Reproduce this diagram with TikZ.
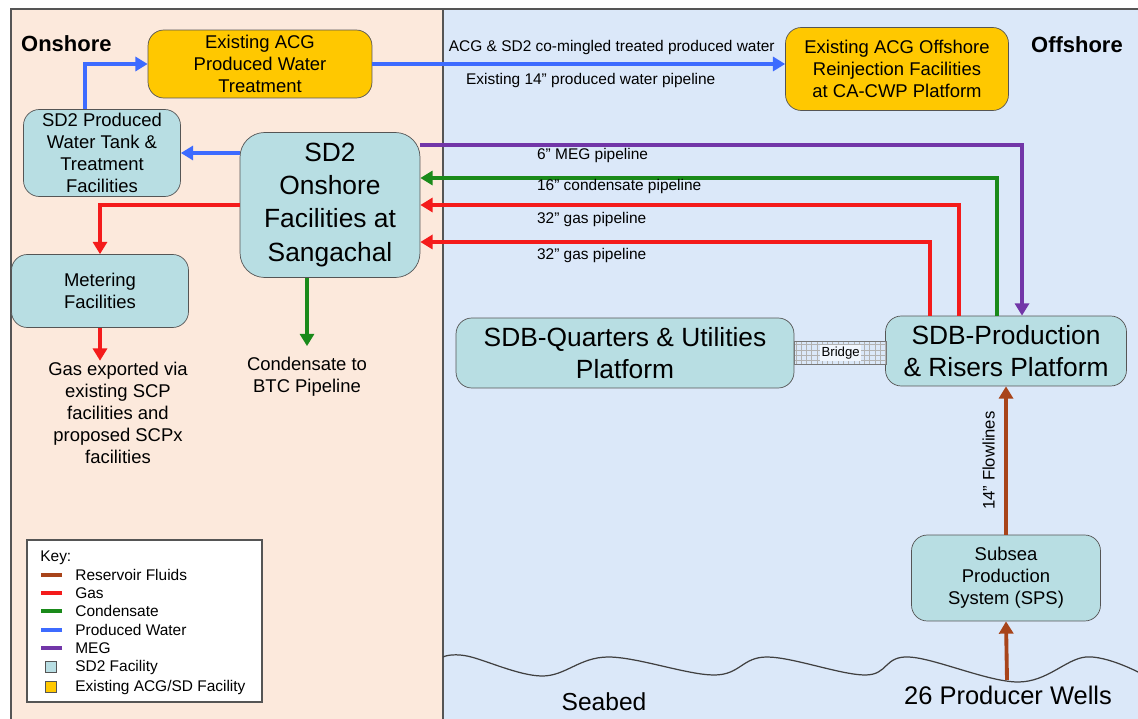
\documentclass[tikz,border=0pt]{standalone}
\usepackage{fontspec}
\setmainfont{Liberation Sans}
\usepackage{xcolor}
\usetikzlibrary{positioning}
\usetikzlibrary{arrows.meta}
\usetikzlibrary{patterns}
\usetikzlibrary{calc}

\definecolor{onshorebg}{HTML}{FCE9DC}
\definecolor{offshorebg}{HTML}{DBE8F9}
\definecolor{sdteal}{HTML}{B8DEE3}
\definecolor{acggold}{HTML}{FFC800}
\definecolor{boxline}{HTML}{555555}
\definecolor{gasred}{HTML}{F41B1B}
\definecolor{condgreen}{HTML}{1A8A1A}
\definecolor{waterblue}{HTML}{3D6BFF}
\definecolor{megpurple}{HTML}{7236A8}
\definecolor{fluidbrown}{HTML}{A8441A}

\newcommand{\midfont}{\fontsize{10.5}{12.5}\selectfont}
\newcommand{\bigfont}{\fontsize{15}{18.8}\selectfont}
\newcommand{\labfont}{\fontsize{8.8}{10}\selectfont}

\begin{document}
\begin{tikzpicture}[
  x=0.02cm, y=-0.02cm,
  % --- styles ---
  sdtwo/.style={draw=boxline, rounded corners=9pt, fill=sdteal, align=center, inner sep=2pt, font=\midfont},
  acg/.style={draw=boxline, rounded corners=9pt, fill=acggold, align=center, inner sep=2pt, font=\midfont},
  pipe/.style={line width=2.2pt, -{Triangle[length=7pt, width=8pt]}},
  lab/.style={font=\labfont, text=black, inner sep=1pt},
  note/.style={align=center, font=\fontsize{10.5}{12.6}\selectfont},
  zone/.style={font=\fontsize{12.5}{14}\selectfont\bfseries},
  keyline/.style={line width=2pt},
  keysq/.style={draw=boxline, minimum size=6.5pt, inner sep=0pt},
  keytxt/.style={font=\fontsize{8.8}{10}\selectfont, anchor=west, inner sep=0pt}
]

\useasboundingbox (0,0) rectangle (1138,719);

% ======================================================
% Onshore / offshore backgrounds
% ======================================================
\fill[white] (0,0) rectangle (1138,719);
\fill[onshorebg] (11,9) rectangle (443,719);
\fill[offshorebg] (443,9) rectangle (1138,719);
\draw[boxline, line width=1pt] (11,719) -- (11,9) -- (1138,9);
\draw[boxline, line width=1pt] (443,9) -- (443,719);

\node[zone, anchor=west] (onlab)  at (15,44) {Onshore};
\node[zone, anchor=west] (offlab) at (1025,45) {Offshore};

% seabed
\draw[black!75, line width=0.7pt] plot[smooth, tension=0.6] coordinates {
  (443,657) (467,656) (542,676) (608,657) (714,675) (767,657)
  (865,675) (909,657) (1018,682) (1086,657) (1138,672)};
\coordinate (wellhead) at (1007,680);

% ======================================================
% Onshore facilities
% ======================================================
\node[acg, minimum width=4.48cm, minimum height=1.36cm] (acgpw) at (260,64)
  {Existing ACG\\Produced Water\\Treatment};
\node[sdtwo, minimum width=3.14cm, minimum height=1.74cm] (pwtank) at (102,153)
  {SD2 Produced\\Water Tank \&\\Treatment\\Facilities};
\node[sdtwo, font=\bigfont, rounded corners=14pt, minimum width=3.6cm, minimum height=2.9cm] (onshore) at (330,205)
  {SD2\\Onshore\\Facilities at\\Sangachal};
\node[sdtwo, minimum width=3.54cm, minimum height=1.46cm] (meter) at (100,291)
  {Metering\\Facilities};

\node[note] (gasexp) at (118,413)
  {Gas exported via\\existing SCP\\facilities and\\proposed SCPx\\facilities};
\node[note] (btc) at (307,377) {Condensate to\\BTC Pipeline};

% ======================================================
% Offshore facilities
% ======================================================
\node[acg, minimum width=4.46cm, minimum height=1.66cm] (reinj) at (897,69)
  {Existing ACG Offshore\\Reinjection Facilities\\at CA-CWP Platform};
\node[sdtwo, font=\fontsize{15}{18}\selectfont, minimum width=6.76cm, minimum height=1.4cm] (quarters) at (625,353)
  {SDB-Quarters \& Utilities\\Platform};
\node[sdtwo, font=\fontsize{15}{18}\selectfont, minimum width=4.82cm, minimum height=1.4cm] (prod) at (1006,351)
  {SDB-Production\\\& Risers Platform};
\node[sdtwo, minimum width=3.78cm, minimum height=1.72cm] (sps) at (1006,578)
  {Subsea\\Production\\System (SPS)};

% bridge between platforms
\node[draw=boxline!80, pattern=grid, pattern color=boxline!45, anchor=west,
      minimum width=1.84cm, minimum height=0.46cm, inner sep=0pt] (bridge) at (quarters.east) {};
\node[font=\fontsize{7.5}{9}\selectfont, fill=offshorebg!40!white, inner sep=1pt] (bridgelab) at (bridge) {Bridge};

\node[font=\fontsize{14}{16}\selectfont] (seabed) at (604,702) {Seabed};
\node[font=\fontsize{14.5}{16}\selectfont] (wells) at (1008,695) {26 Producer Wells};

% ======================================================
% Produced water
% ======================================================
\draw[pipe, waterblue] ([xshift=-0.34cm]pwtank.north) |- (acgpw.west);
\draw[pipe, waterblue] (pwtank.east -| onshore.west) -- (pwtank.east);
\draw[pipe, waterblue] (acgpw.east) -- (acgpw.east -| reinj.west)
  node[lab, pos=0.5, above=3pt, xshift=0.66cm] {ACG \& SD2 co-mingled treated produced water}
  node[lab, pos=0.5, below=3pt, xshift=0.24cm] {Existing 14” produced water pipeline};

% ======================================================
% Onshore export
% ======================================================
\draw[pipe, gasred] (onshore.west) -| (meter.north);
\draw[pipe, gasred] (meter.south) -- ([yshift=-0.1cm]meter.south |- gasexp.north);
\draw[pipe, condgreen] (btc.north |- onshore.south) -- ([yshift=0.1cm]btc.north);

% ======================================================
% Pipelines to / from shore
% ======================================================
\draw[pipe, megpurple] ([yshift=1.2cm]onshore.east) -| ([xshift=0.32cm]prod.north);
\draw[pipe, condgreen] ([xshift=-0.18cm]prod.north) |- ([yshift=0.54cm]onshore.east);
\draw[pipe, gasred] ([xshift=-0.94cm]prod.north) |- (onshore.east);
\draw[pipe, gasred] ([xshift=-1.52cm]prod.north) |- ([yshift=-0.74cm]onshore.east);

\node[lab, anchor=west] (meglab)  at (535,156) {6” MEG pipeline};
\node[lab, anchor=west] (condlab) at (535,187) {16” condensate pipeline};
\node[lab, anchor=west] (gaslabA) at (535,220) {32” gas pipeline};
\node[lab, anchor=west] (gaslabB) at (535,256) {32” gas pipeline};

% ======================================================
% Reservoir fluids
% ======================================================
\draw[pipe, fluidbrown] (sps.north) -- node[pos=0.5, above=2pt, sloped, text=black, font=\fontsize{9.5}{11}\selectfont] {14” Flowlines} (prod.south);
\draw[pipe, fluidbrown] (wellhead) -- (sps.south);

% ======================================================
% Key
% ======================================================
\node[draw=boxline, fill=white, line width=0.8pt, minimum width=4.7cm, minimum height=3.24cm] (key) at (144.5,621) {};
\node[keytxt] (k0) at (40,558) {Key:};
\node[keytxt] (k1) at (75,575) {Reservoir Fluids};
\node[keytxt] (k2) at (75,593) {Gas};
\node[keytxt] (k3) at (75,611) {Condensate};
\node[keytxt] (k4) at (75,630) {Produced Water};
\node[keytxt] (k5) at (75,648) {MEG};
\node[keytxt] (k6) at (75,667) {SD2 Facility};
\node[keytxt] (k7) at (75,687) {Existing ACG/SD Facility};

\draw[keyline, fluidbrown] ([xshift=-0.26cm]k1.west) -- ++(-0.42cm,0);
\draw[keyline, gasred]     ([xshift=-0.26cm]k2.west) -- ++(-0.42cm,0);
\draw[keyline, condgreen]  ([xshift=-0.26cm]k3.west) -- ++(-0.42cm,0);
\draw[keyline, waterblue]  ([xshift=-0.26cm]k4.west) -- ++(-0.42cm,0);
\draw[keyline, megpurple]  ([xshift=-0.26cm]k5.west) -- ++(-0.42cm,0);
\node[keysq, fill=sdteal, left=0.36cm of k6] (sq6) {};
\node[keysq, fill=acggold, left=0.36cm of k7] (sq7) {};

\end{tikzpicture}
\end{document}
